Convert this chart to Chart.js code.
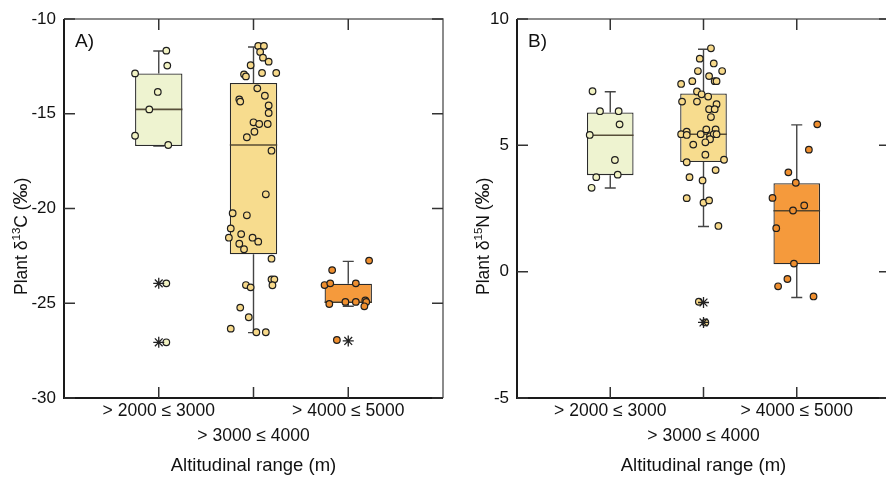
<!DOCTYPE html>
<html>
<head>
<meta charset="utf-8">
<script src="https://cdn.jsdelivr.net/npm/chart.js@4"></script>
<style>
  html, body { margin: 0; padding: 0; overflow: hidden; background: #fff; }
  .panel { position: absolute; top: 0; }
  #pa { left: 0; }
  #pb { left: 450px; }
</style>
</head>
<body>
<div class="panel" id="pa"><canvas id="chartA" width="450" height="477"></canvas></div>
<div class="panel" id="pb"><canvas id="chartB" width="447" height="477"></canvas></div>
<script>
// === Data ===
const categories = ['> 2000 ≤ 3000', '> 3000 ≤ 4000', '> 4000 ≤ 5000'];
const xTitle = 'Altitudinal range (m)';

// Plant δ13C: box stats per category
const c13Low  = [-16.70, -26.55, -25.16];
const c13Q1   = [-16.70, -22.42, -24.99];
const c13Med  = [-14.77, -16.65, -24.95];
const c13Q3   = [-12.87, -13.38, -23.97];
const c13High = [-11.69, -11.48, -22.79];
// individual samples: [jitter, value]
const c13Pts1 = [[0.08,-11.67],[0.09,-12.46],[-0.25,-12.87],[-0.01,-13.85],[-0.10,-14.77],[-0.25,-16.16],[0.10,-16.65],[0.08,-23.95],[0.08,-27.06]];
const c13Pts2 = [[0.05,-11.42],[0.11,-11.42],[0.07,-11.74],[0.10,-12.04],[0.16,-12.25],[-0.03,-12.44],[-0.10,-12.92],[-0.08,-13.03],
  [0.09,-12.85],[0.24,-12.85],[0.04,-13.66],[0.12,-14.05],[-0.15,-14.24],[-0.14,-14.36],[0.16,-14.56],[0.16,-14.96],[0.00,-15.45],
  [0.06,-15.54],[0.15,-15.54],[0.01,-15.95],[-0.07,-16.24],[0.19,-16.95],[0.13,-19.25],[-0.22,-20.25],[-0.07,-20.36],[-0.24,-21.05],
  [-0.13,-21.35],[-0.26,-21.54],[-0.01,-21.54],[-0.15,-21.86],[0.05,-21.75],[-0.10,-22.15],[0.19,-22.65],[0.19,-23.74],[0.22,-23.74],
  [0.20,-24.05],[-0.08,-24.04],[-0.03,-24.16],[-0.14,-25.23],[-0.05,-25.74],[-0.24,-26.34],[0.03,-26.53],[0.13,-26.53]];
const c13Pts3 = [[0.22,-22.75],[-0.17,-23.25],[-0.25,-24.04],[-0.19,-23.95],[0.08,-23.95],[-0.20,-25.04],[-0.03,-24.93],[0.08,-24.93],
  [0.18,-24.85],[0.19,-24.93],[0.17,-25.16],[-0.12,-26.94]];
// outliers: [category, value]
const c13Out = [[1,-23.95],[1,-27.06],[3,-26.99]];

// Plant δ15N
const n15Low  = [3.31, 1.79, -1.02];
const n15Q1   = [3.82, 4.34, 0.29];
const n15Med  = [5.40, 5.44, 2.41];
const n15Q3   = [6.30, 7.05, 3.50];
const n15High = [7.12, 8.80, 5.81];
const n15Pts1 = [[-0.19,7.14],[-0.11,6.35],[0.09,6.35],[0.10,5.83],[-0.22,5.41],[0.05,4.42],[-0.15,3.74],[0.08,3.84],[-0.20,3.32]];
const n15Pts2 = [[0.08,8.84],[-0.04,8.43],[0.11,8.24],[-0.06,7.94],[0.20,7.94],[0.06,7.74],[-0.12,7.54],[-0.24,7.43],[0.12,7.54],
  [0.14,7.54],[-0.07,7.13],[-0.02,7.02],[0.05,6.93],[-0.23,6.73],[-0.07,6.73],[0.14,6.63],[0.06,6.43],[0.12,6.43],[0.08,6.12],
  [0.03,5.63],[0.13,5.63],[-0.18,5.54],[-0.24,5.44],[-0.18,5.41],[-0.03,5.44],[0.07,5.36],[0.11,5.44],[0.14,5.44],[0.07,5.24],
  [0.02,5.12],[-0.11,5.03],[0.02,4.63],[-0.18,4.33],[0.22,4.43],[0.13,4.02],[-0.15,3.74],[-0.01,3.61],[-0.18,2.91],[0.00,2.73],
  [0.06,2.82],[0.16,1.81],[-0.05,-1.19],[0.02,-2.01]];
const n15Pts3 = [[0.22,5.83],[0.13,4.83],[-0.09,3.93],[-0.01,3.52],[-0.26,2.92],[0.08,2.62],[-0.04,2.42],[-0.22,1.72],[-0.03,0.32],
  [-0.10,-0.29],[-0.20,-0.58],[0.18,-0.98]];
const n15Out = [[2,-1.22],[2,-2.01]];

// === Colours ===
const boxFill   = ['#eef3d0', '#f7dc8e', '#f59a3c'];
const pointFill = ['#f2f3c4', '#f7d98a', '#ef8f2f'];
const FONT = '"Liberation Sans", Arial, sans-serif';

// whiskers, medians, frame, inward ticks, panel letter, y title
const boxPlugin = {
  id: 'boxExtras',
  beforeDatasetsDraw(chart) {
    const o = chart.options.plugins.boxExtras;
    const {ctx, scales: {x, y}} = chart;
    ctx.save();
    ctx.strokeStyle = '#444';
    ctx.lineWidth = 1.4;
    o.low.forEach((lo, i) => {
      const px = x.getPixelForValue(i + 1);
      ctx.beginPath();
      ctx.moveTo(px, y.getPixelForValue(o.high[i]));
      ctx.lineTo(px, y.getPixelForValue(o.q3[i]));
      ctx.moveTo(px, y.getPixelForValue(o.q1[i]));
      ctx.lineTo(px, y.getPixelForValue(lo));
      ctx.moveTo(px - 5.5, y.getPixelForValue(o.high[i]));
      ctx.lineTo(px + 5.5, y.getPixelForValue(o.high[i]));
      ctx.moveTo(px - 5.5, y.getPixelForValue(lo));
      ctx.lineTo(px + 5.5, y.getPixelForValue(lo));
      ctx.stroke();
    });
    ctx.restore();
  },
  afterDatasetDraw(chart, args) {
    if (args.index !== 0) return;
    const o = chart.options.plugins.boxExtras;
    const {ctx, scales: {y}} = chart;
    const bars = args.meta.data;
    ctx.save();
    ctx.strokeStyle = 'rgba(70,60,40,0.9)';
    ctx.lineWidth = 1.6;
    o.med.forEach((m, i) => {
      const b = bars[i];
      const py = y.getPixelForValue(m);
      ctx.beginPath();
      ctx.moveTo(b.x - b.width / 2, py);
      ctx.lineTo(b.x + b.width / 2, py);
      ctx.stroke();
    });
    ctx.restore();
  },
  afterDraw(chart) {
    const o = chart.options.plugins.boxExtras;
    const {ctx, chartArea: {left, right, top, bottom}, scales: {x, y}} = chart;
    ctx.save();
    // frame
    ctx.strokeStyle = '#666';
    ctx.lineWidth = 1.5;
    ctx.beginPath();
    ctx.moveTo(left, top); ctx.lineTo(right, top); ctx.lineTo(right, bottom);
    ctx.stroke();
    ctx.strokeStyle = '#1a1a1a';
    ctx.lineWidth = 2;
    ctx.beginPath();
    ctx.moveTo(left, top); ctx.lineTo(left, bottom); ctx.lineTo(right, bottom);
    ctx.stroke();
    // inward ticks
    ctx.strokeStyle = '#333';
    ctx.lineWidth = 1.5;
    ctx.beginPath();
    y.ticks.forEach(t => {
      const py = y.getPixelForValue(t.value);
      ctx.moveTo(left, py); ctx.lineTo(left + 11, py);
      ctx.moveTo(right - 11, py); ctx.lineTo(right, py);
    });
    categories.forEach((c, i) => {
      const px = x.getPixelForValue(i + 1);
      ctx.moveTo(px, bottom); ctx.lineTo(px, bottom - 11);
      ctx.moveTo(px, top); ctx.lineTo(px, top + 11);
    });
    ctx.stroke();
    // panel letter
    ctx.fillStyle = '#111';
    ctx.font = '19px ' + FONT;
    ctx.textBaseline = 'alphabetic';
    ctx.fillText(o.letter, left + 11, top + 28);
    // y title with superscript
    ctx.translate(left - o.titleGap, bottom - 103);
    ctx.rotate(-Math.PI / 2);
    let cx = 0;
    const part = (txt, size, dy) => {
      ctx.font = size + 'px ' + FONT;
      ctx.fillText(txt, cx, dy);
      cx += ctx.measureText(txt).width;
    };
    part('Plant δ', 17.5, 0);
    part(o.iso, 11.5, -7.5);
    part(o.el + ' (', 17.5, 0);
    part('‰', 21, 0);
    part(')', 17.5, 0);
    ctx.restore();
  }
};

function panel(id, o) {
  const pointSets = o.points.map((grp, i) => ({
    type: 'scatter',
    data: grp.map(p => ({x: i + 1 + p[0], y: p[1]})),
    backgroundColor: pointFill[i],
    borderColor: '#1e1e1e',
    borderWidth: 1.2,
    pointRadius: 3.3,
    order: 1
  }));

  new Chart(document.getElementById(id), {
    type: 'bar',
    data: {
      datasets: [
        {
          type: 'bar',
          data: categories.map((c, i) => ({x: i + 1, y: [o.q1[i], o.q3[i]]})),
          backgroundColor: boxFill,
          borderColor: '#2b2b2b',
          borderWidth: 1.3,
          borderSkipped: false,
          barPercentage: 0.5,
          categoryPercentage: 1,
          grouped: false,
          order: 3
        },
        ...pointSets,
        {
          type: 'scatter',
          data: o.outliers.map(p => ({x: p[0], y: p[1]})),
          pointStyle: 'star',
          pointRadius: 5.5,
          borderColor: '#222',
          borderWidth: 1.3,
          order: 0
        }
      ]
    },
    options: {
      responsive: false,
      animation: false,
      layout: { padding: { top: 19, right: 7, left: 0, bottom: 0 } },
      plugins: {
        legend: { display: false },
        tooltip: { enabled: false },
        boxExtras: o
      },
      scales: {
        x: {
          type: 'linear', min: 0, max: 4, offset: false,
          grid: { display: false, drawTicks: false }, border: { display: false },
          ticks: {
            stepSize: 1, autoSkip: false, maxRotation: 0, minRotation: 0, padding: 0,
            color: '#111', font: { size: 17.5, lineHeight: 1.45, family: FONT },
            callback: v => v === 2 ? ['', categories[1]] : (categories[v - 1] || '')
          },
          title: {
            display: true, text: xTitle, color: '#111', padding: 0,
            font: { size: 18.5, family: FONT }
          },
          afterFit: s => { s.height = 79; }
        },
        y: {
          min: o.min, max: o.max,
          grid: { display: false, drawTicks: false }, border: { display: false },
          ticks: {
            stepSize: 5, padding: 8, color: '#111',
            font: { size: 17, family: FONT }
          },
          afterFit: s => { s.width = o.axisW; }
        }
      }
    },
    plugins: [boxPlugin]
  });
}

panel('chartA', {
  letter: 'A)', iso: '13', el: 'C', min: -30, max: -10, axisW: 64, titleGap: 37,
  low: c13Low, q1: c13Q1, med: c13Med, q3: c13Q3, high: c13High,
  points: [c13Pts1, c13Pts2, c13Pts3], outliers: c13Out
});

panel('chartB', {
  letter: 'B)', iso: '15', el: 'N', min: -5, max: 10, axisW: 67, titleGap: 28,
  low: n15Low, q1: n15Q1, med: n15Med, q3: n15Q3, high: n15High,
  points: [n15Pts1, n15Pts2, n15Pts3], outliers: n15Out
});
</script>
</body>
</html>
